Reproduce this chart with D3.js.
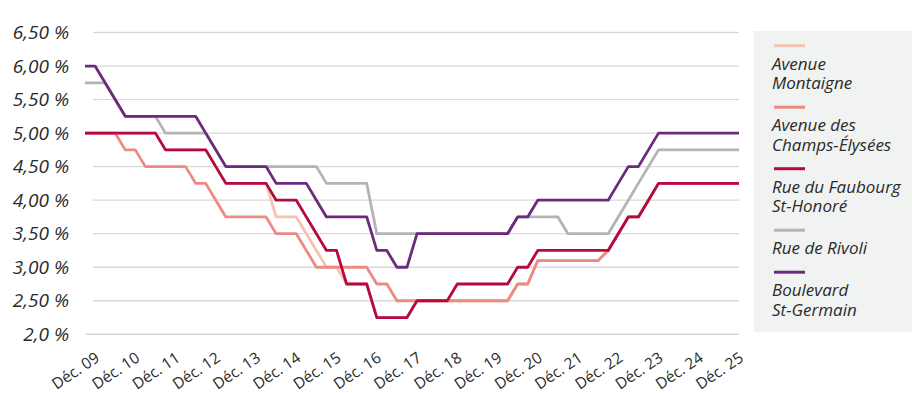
<!DOCTYPE html>
<html>
<head>
<meta charset="utf-8">
<script src="https://cdn.jsdelivr.net/npm/d3@7"></script>
<style>
  html, body { margin: 0; padding: 0; background: #ffffff; }
  svg { display: block; font-family: "Open Sans", Lato, sans-serif; }
</style>
</head>
<body>
<svg id="chart" width="912" height="393"></svg>
<script>
// Quarterly prime retail yields, Paris high streets (%)
// One value per quarter, from Sept. 2009 to Dec. 2025 (66 quarters).
const xTickLabels = ["Déc. 09", "Déc. 10", "Déc. 11", "Déc. 12", "Déc. 13", "Déc. 14", "Déc. 15", "Déc. 16",
  "Déc. 17", "Déc. 18", "Déc. 19", "Déc. 20", "Déc. 21", "Déc. 22", "Déc. 23", "Déc. 24", "Déc. 25"];
const yTickValues = [2.0, 2.5, 3.0, 3.5, 4.0, 4.5, 5.0, 5.5, 6.0, 6.5];
const yTickLabels = ["2,0 %", "2,50 %", "3,00 %", "3,50 %", "4,00 %", "4,50 %", "5,00 %", "5,50 %", "6,00 %", "6,50 %"];

const seriesNames = ["Avenue Montaigne", "Avenue des Champs-Élysées", "Rue du Faubourg St-Honoré", "Rue de Rivoli", "Boulevard St-Germain"];
const legendLines = [["Avenue", "Montaigne"], ["Avenue des", "Champs-Élysées"], ["Rue du Faubourg", "St-Honoré"], ["Rue de Rivoli"], ["Boulevard", "St-Germain"]];
const seriesColors = ["#f5c3b3", "#ec8a84", "#b5093f", "#b4b4b6", "#6d2a7d"];

const avenueMontaigne = [
  5.00, 5.00, 5.00, 5.00, 5.00, 5.00, 5.00, 5.00, 4.75, 4.75, 4.75, 4.75, 4.75, 4.50, 4.25, 4.25,
  4.25, 4.25, 4.25, 3.75, 3.75, 3.75, 3.50, 3.25, 3.00, 3.00, 2.75, 2.75, 2.75, 2.25, 2.25, 2.25,
  2.25, 2.50, 2.50, 2.50, 2.50, 2.50, 2.50, 2.50, 2.50, 2.50, 2.50, 2.75, 2.75, 3.10, 3.10, 3.10,
  3.10, 3.10, 3.10, 3.10, 3.25, 3.50, 3.75, 3.75, 4.00, 4.25, 4.25, 4.25, 4.25, 4.25, 4.25, 4.25,
  4.25, 4.25];
const champsElysees = [
  5.00, 5.00, 5.00, 5.00, 4.75, 4.75, 4.50, 4.50, 4.50, 4.50, 4.50, 4.25, 4.25, 4.00, 3.75, 3.75,
  3.75, 3.75, 3.75, 3.50, 3.50, 3.50, 3.25, 3.00, 3.00, 3.00, 3.00, 3.00, 3.00, 2.75, 2.75, 2.50,
  2.50, 2.50, 2.50, 2.50, 2.50, 2.50, 2.50, 2.50, 2.50, 2.50, 2.50, 2.75, 2.75, 3.10, 3.10, 3.10,
  3.10, 3.10, 3.10, 3.10, 3.25, 3.50, 3.75, 3.75, 4.00, 4.25, 4.25, 4.25, 4.25, 4.25, 4.25, 4.25,
  4.25, 4.25];
const faubourgStHonore = [
  5.00, 5.00, 5.00, 5.00, 5.00, 5.00, 5.00, 5.00, 4.75, 4.75, 4.75, 4.75, 4.75, 4.50, 4.25, 4.25,
  4.25, 4.25, 4.25, 4.00, 4.00, 4.00, 3.75, 3.50, 3.25, 3.25, 2.75, 2.75, 2.75, 2.25, 2.25, 2.25,
  2.25, 2.50, 2.50, 2.50, 2.50, 2.75, 2.75, 2.75, 2.75, 2.75, 2.75, 3.00, 3.00, 3.25, 3.25, 3.25,
  3.25, 3.25, 3.25, 3.25, 3.25, 3.50, 3.75, 3.75, 4.00, 4.25, 4.25, 4.25, 4.25, 4.25, 4.25, 4.25,
  4.25, 4.25];
const rueDeRivoli = [
  5.75, 5.75, 5.75, 5.50, 5.25, 5.25, 5.25, 5.25, 5.00, 5.00, 5.00, 5.00, 5.00, 4.75, 4.50, 4.50,
  4.50, 4.50, 4.50, 4.50, 4.50, 4.50, 4.50, 4.50, 4.25, 4.25, 4.25, 4.25, 4.25, 3.50, 3.50, 3.50,
  3.50, 3.50, 3.50, 3.50, 3.50, 3.50, 3.50, 3.50, 3.50, 3.50, 3.50, 3.75, 3.75, 3.75, 3.75, 3.75,
  3.50, 3.50, 3.50, 3.50, 3.50, 3.75, 4.00, 4.25, 4.50, 4.75, 4.75, 4.75, 4.75, 4.75, 4.75, 4.75,
  4.75, 4.75];
const boulevardStGermain = [
  6.00, 6.00, 5.75, 5.50, 5.25, 5.25, 5.25, 5.25, 5.25, 5.25, 5.25, 5.25, 5.00, 4.75, 4.50, 4.50,
  4.50, 4.50, 4.50, 4.25, 4.25, 4.25, 4.25, 4.00, 3.75, 3.75, 3.75, 3.75, 3.75, 3.25, 3.25, 3.00,
  3.00, 3.50, 3.50, 3.50, 3.50, 3.50, 3.50, 3.50, 3.50, 3.50, 3.50, 3.75, 3.75, 4.00, 4.00, 4.00,
  4.00, 4.00, 4.00, 4.00, 4.00, 4.25, 4.50, 4.50, 4.75, 5.00, 5.00, 5.00, 5.00, 5.00, 5.00, 5.00,
  5.00, 5.00];

const seriesValues = [avenueMontaigne, champsElysees, faubourgStHonore, rueDeRivoli, boulevardStGermain];

// ---- layout ----
const svg = d3.select("#chart");
const plotLeft = 85, plotRight = 739, gridLeft = 93, axisLeft = 86;
const yTop = 32.5, yBottom = 334.3;
const quartersPerYear = 4, firstTickQuarter = 1;
const italicFont = "'Open Sans', Lato, sans-serif";

const x = d3.scaleLinear().domain([0, avenueMontaigne.length - 1]).range([plotLeft, plotRight]);
const y = d3.scaleLinear().domain([2, 6.5]).range([yBottom, yTop]);

// horizontal gridlines
svg.append("g")
  .selectAll("line")
  .data(yTickValues.filter(v => v > 2))
  .join("line")
  .attr("x1", gridLeft).attr("x2", plotRight)
  .attr("y1", d => y(d)).attr("y2", d => y(d))
  .attr("stroke", "#d9d9d9").attr("stroke-width", 1.3);

// base line
svg.append("line")
  .attr("x1", axisLeft).attr("x2", plotRight)
  .attr("y1", y(2)).attr("y2", y(2))
  .attr("stroke", "#d4d4d4").attr("stroke-width", 1.6);

// y axis labels
const yAxis = d3.axisLeft(y)
  .tickValues(yTickValues)
  .tickFormat((d, i) => yTickLabels[i])
  .tickSize(0).tickPadding(0);
const gy = svg.append("g").attr("transform", "translate(69,0)").call(yAxis);
gy.select(".domain").remove();
gy.selectAll("text")
  .attr("font-family", italicFont)
  .attr("font-style", "italic")
  .attr("font-size", 19)
  .attr("fill", "#2a2a2a");

// x axis labels (one per December)
const tickQuarters = xTickLabels.map((d, i) => firstTickQuarter + i * quartersPerYear);
const xAxis = d3.axisBottom(x)
  .tickValues(tickQuarters)
  .tickFormat((d, i) => xTickLabels[i])
  .tickSize(0).tickPadding(0);
const gx = svg.append("g").attr("transform", `translate(0,${yBottom})`).call(xAxis);
gx.select(".domain").remove();
gx.selectAll("text")
  .attr("font-family", "'Open Sans', sans-serif")
  .attr("font-size", 15.5)
  .attr("fill", "#2a2a2a")
  .attr("text-anchor", "end")
  .attr("dy", 0)
  .attr("y", 0)
  .attr("transform", "translate(5,26) rotate(-34)");

// series lines
const line = d3.line().x((d, i) => x(i)).y(d => y(d));
svg.append("g")
  .selectAll("path")
  .data(seriesValues)
  .join("path")
  .attr("d", line)
  .attr("fill", "none")
  .attr("stroke", (d, i) => seriesColors[i])
  .attr("stroke-width", 2.8)
  .attr("stroke-linejoin", "round")
  .attr("stroke-linecap", "butt");

// legend
const legend = svg.append("g");
legend.append("rect")
  .attr("x", 754).attr("y", 31).attr("width", 158).attr("height", 301)
  .attr("fill", "#f1f2f2");

const lineHeight = 19.5, itemGap = 22.5, firstBaseline = 24;
let cursor = 45.7;
seriesNames.forEach((name, i) => {
  const item = legend.append("g").attr("transform", `translate(0,${cursor})`);
  item.append("line")
    .attr("x1", 774).attr("x2", 805).attr("y1", 0).attr("y2", 0)
    .attr("stroke", seriesColors[i]).attr("stroke-width", 3);
  item.selectAll("text")
    .data(legendLines[i])
    .join("text")
    .attr("x", 772)
    .attr("y", (d, k) => firstBaseline + k * lineHeight)
    .attr("font-family", italicFont)
    .attr("font-style", "italic")
    .attr("font-size", 17)
    .attr("fill", "#2a2a2a")
    .text(d => d);
  cursor += legendLines[i].length * lineHeight + itemGap;
});
</script>
</body>
</html>
